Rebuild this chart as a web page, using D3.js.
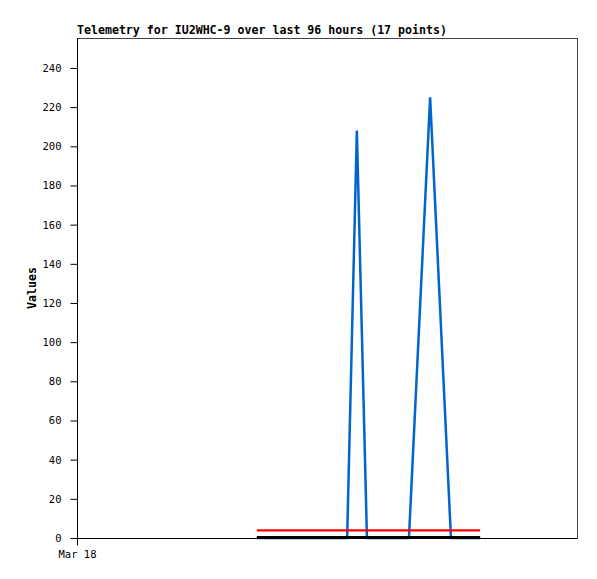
<!DOCTYPE html>
<html><head><meta charset="utf-8">
<script src="https://cdn.jsdelivr.net/npm/d3@7"></script>
<style>body{margin:0;background:#fff}svg{display:block}</style>
</head><body>
<script>
const title = "Telemetry for IU2WHC-9 over last 96 hours (17 points)";
const yLabel = "Values";
const times = ["2024-03-18T08:38","2024-03-18T09:10","2024-03-18T09:45","2024-03-18T10:20","2024-03-18T11:00","2024-03-18T11:40","2024-03-18T12:20","2024-03-18T12:58","2024-03-18T13:26","2024-03-18T13:55","2024-03-18T14:40","2024-03-18T15:20","2024-03-18T15:56","2024-03-18T16:57","2024-03-18T17:57","2024-03-18T18:40","2024-03-18T19:21"];
const blueValues = [0,0,0,0,0,0,0,0,208,0,0,0,0,225,0,0,0];
const redValues = [3.9,3.9,3.9,3.9,3.9,3.9,3.9,3.9,3.9,3.9,3.9,3.9,3.9,3.9,3.9,3.9,3.9];
const blackValues = [0,0,0,0,0,0,0,0,0,0,0,0,0,0,0,0,0];
const yTicks = [0,20,40,60,80,100,120,140,160,180,200,220,240];
const xTickLabels = ["Mar 18"];
const xTickTimes = ["2024-03-18T00:00"];

const W = 597, H = 579;
const m = {left:77, right:20, top:38, bottom:41};
const svg = d3.select("body").append("svg").attr("width",W).attr("height",H);
const parse = s => new Date(s);
const x = d3.scaleTime().domain([parse("2024-03-18T00:00"), parse("2024-03-19T00:00")]).range([m.left, W-m.right]);
const y = d3.scaleLinear().domain([0,255.3]).range([H-m.bottom, m.top]);

// frame
svg.append("rect").attr("x",m.left+0.5).attr("y",m.top+0.5)
  .attr("width",W-m.right-m.left).attr("height",H-m.bottom-m.top)
  .attr("fill","none").attr("stroke","#444").attr("stroke-width",1);

const series = [
  {vals: blueValues, color:"#0066cc", w:2.5, dy:0},
  {vals: redValues, color:"#ff0000", w:2.2, dy:0},
  {vals: blackValues, color:"#000000", w:2, dy:-1}
];
const line = d3.line().x(d=>x(d.t)).y(d=>y(d.v));
series.forEach(s=>{
  const data = times.map((t,i)=>({t:parse(t), v:s.vals[i]}));
  svg.append("path").datum(data).attr("d",line).attr("fill","none")
    .attr("transform",`translate(0,${s.dy})`)
    .attr("stroke",s.color).attr("stroke-width",s.w).attr("stroke-linejoin","miter");
});
// axes
const yAxis = d3.axisLeft(y).tickValues(yTicks).tickSize(7).tickPadding(9);
const gy = svg.append("g").attr("transform",`translate(${m.left+0.5},0)`).call(yAxis);
const xAxis = d3.axisBottom(x).tickValues(xTickTimes.map(parse)).tickFormat((d,i)=>xTickLabels[i]).tickSize(7).tickPadding(5);
const gx = svg.append("g").attr("transform",`translate(0,${H-m.bottom+0.5})`).call(xAxis);
[gx,gy].forEach(g=>{
  g.select(".domain").attr("stroke","#000");
  g.selectAll(".tick line").attr("stroke","#000");
  g.selectAll("text").attr("font-family","'DejaVu Sans Mono', monospace").attr("font-size","10.5px").attr("fill","#000");
});
gx.select(".domain").attr("d",`M${m.left},0H${W-m.right}`);
gy.select(".domain").attr("d",`M0,${m.top}V${H-m.bottom}`);

svg.append("text").attr("x",m.left).attr("y",34).text(title)
  .attr("font-family","'DejaVu Sans Mono', monospace").attr("font-weight","bold").attr("font-size","11.6px").attr("fill","#000");
svg.append("text").attr("transform",`translate(36,${(m.top+H-m.bottom)/2}) rotate(-90)`).attr("text-anchor","middle").text(yLabel)
  .attr("font-family","'DejaVu Sans Mono', monospace").attr("font-weight","bold").attr("font-size","11.6px").attr("fill","#000");
</script>
</body></html>
